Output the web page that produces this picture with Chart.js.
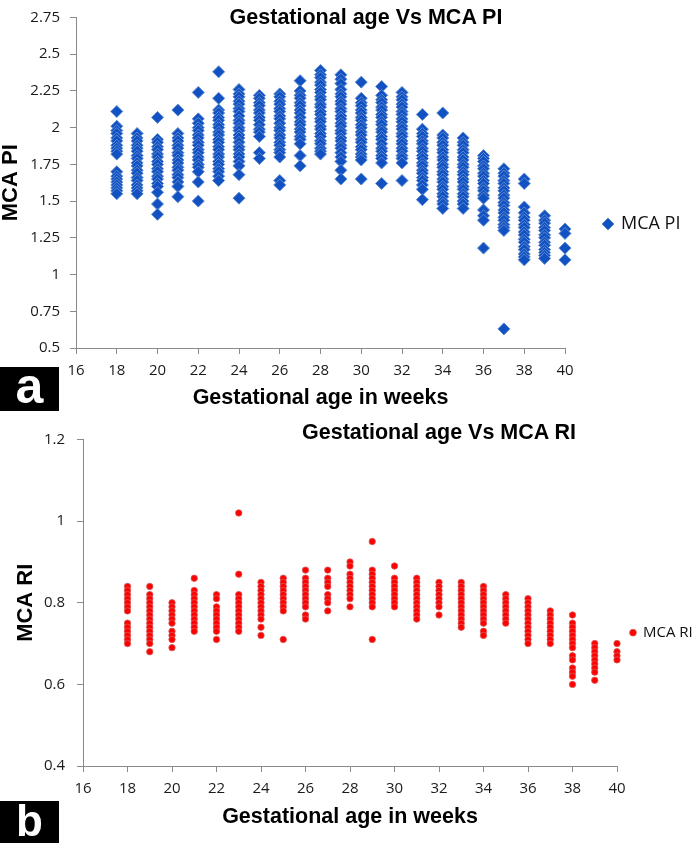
<!DOCTYPE html>
<html>
<head>
<meta charset="utf-8">
<script src="https://cdn.jsdelivr.net/npm/chart.js@4"></script>
<style>
  html, body { margin: 0; padding: 0; background: #fff; }
  body { width: 696px; height: 849px; position: relative; overflow: hidden; }
  canvas { position: absolute; left: 0; }
  #c1 { top: 0; }
  #c2 { top: 420px; }
  .ttl { position: absolute; font-family: 'Liberation Sans', Arial, sans-serif; font-weight: bold; font-size: 21.5px; line-height: 24px; color: #000; white-space: nowrap; transform: translateX(-50%); }
  .tag { position: absolute; left: 0; width: 59px; background: #000; color: #fff; font-family: 'Liberation Sans', Arial, sans-serif; font-weight: bold; display: flex; align-items: center; justify-content: center; line-height: 1; }
</style>
</head>
<body>
<canvas id="c1" width="696" height="420"></canvas>
<canvas id="c2" width="696" height="429"></canvas>
<div class="ttl" style="left:366px; top:5px;">Gestational age Vs MCA PI</div>
<div class="ttl" style="left:439px; top:420px;">Gestational age Vs MCA RI</div>
<div class="tag" style="top:367px; height:44px; font-size:50px;"><span style="margin-top:-6px">a</span></div>
<div class="tag" style="top:801px; height:42px; font-size:44px;"><span style="margin-top:-2px">b</span></div>
<script>
// ---------- DATA ----------
const piWeeks = [18,19,20,21,22,23,24,25,26,27,28,29,30,31,32,33,34,35,36,37,38,39,40];
const piValues = [
  [2.11,2.01,1.98,1.96,1.93,1.91,1.88,1.86,1.84,1.82,1.70,1.67,1.65,1.63,1.61,1.59,1.57,1.55],
  [1.96,1.93,1.91,1.88,1.86,1.84,1.81,1.79,1.76,1.74,1.71,1.69,1.66,1.64,1.61,1.59,1.57,1.55],
  [2.07,1.92,1.90,1.87,1.85,1.82,1.80,1.77,1.75,1.72,1.70,1.67,1.65,1.62,1.60,1.56,1.48,1.41],
  [2.12,1.96,1.93,1.91,1.88,1.86,1.83,1.81,1.78,1.76,1.73,1.71,1.68,1.66,1.63,1.60,1.53],
  [2.24,2.06,2.03,2.00,1.98,1.95,1.93,1.90,1.88,1.85,1.83,1.80,1.78,1.75,1.73,1.70,1.63,1.50],
  [2.38,2.20,2.12,2.10,2.07,2.05,2.02,2.00,1.97,1.95,1.92,1.90,1.87,1.85,1.82,1.80,1.77,1.75,1.72,1.70,1.67,1.64],
  [2.26,2.23,2.21,2.18,2.16,2.13,2.11,2.08,2.05,2.03,2.00,1.98,1.95,1.93,1.90,1.87,1.85,1.82,1.80,1.77,1.74,1.68,1.52],
  [2.22,2.20,2.17,2.15,2.12,2.10,2.07,2.05,2.02,1.99,1.97,1.94,1.83,1.79],
  [2.23,2.21,2.18,2.16,2.13,2.11,2.08,2.06,2.03,2.00,1.98,1.95,1.93,1.90,1.88,1.85,1.83,1.80,1.64,1.61],
  [2.32,2.25,2.22,2.20,2.17,2.15,2.12,2.10,2.07,2.04,2.02,1.99,1.97,1.94,1.92,1.89,1.81,1.74],
  [2.39,2.36,2.34,2.31,2.29,2.26,2.24,2.21,2.19,2.16,2.14,2.11,2.09,2.06,2.04,2.01,1.99,1.96,1.94,1.91,1.89,1.86,1.84,1.82],
  [2.36,2.33,2.30,2.26,2.23,2.21,2.18,2.16,2.13,2.11,2.08,2.06,2.03,2.01,1.98,1.96,1.93,1.91,1.88,1.86,1.83,1.80,1.77,1.71,1.65],
  [2.31,2.20,2.17,2.15,2.12,2.10,2.07,2.05,2.02,2.00,1.97,1.95,1.92,1.90,1.87,1.85,1.82,1.80,1.78,1.65],
  [2.28,2.22,2.19,2.17,2.14,2.12,2.09,2.07,2.04,2.02,1.99,1.97,1.94,1.92,1.89,1.86,1.84,1.81,1.79,1.76,1.62],
  [2.24,2.21,2.19,2.16,2.14,2.11,2.09,2.06,2.04,2.01,1.99,1.96,1.94,1.91,1.89,1.86,1.84,1.81,1.79,1.76,1.64],
  [2.09,1.99,1.96,1.94,1.91,1.89,1.86,1.84,1.81,1.79,1.76,1.74,1.71,1.69,1.66,1.64,1.61,1.58,1.51],
  [2.10,1.95,1.93,1.90,1.88,1.85,1.83,1.80,1.78,1.75,1.73,1.70,1.68,1.65,1.63,1.60,1.58,1.55,1.53,1.50,1.48,1.45],
  [1.93,1.90,1.88,1.85,1.83,1.80,1.78,1.75,1.73,1.70,1.68,1.65,1.63,1.60,1.58,1.55,1.53,1.50,1.48,1.45],
  [1.81,1.79,1.77,1.74,1.72,1.69,1.67,1.64,1.62,1.59,1.57,1.54,1.52,1.44,1.40,1.37,1.18],
  [1.72,1.69,1.67,1.64,1.62,1.59,1.57,1.54,1.52,1.49,1.47,1.44,1.42,1.39,1.37,1.34,1.32,1.30,0.63],
  [1.65,1.62,1.46,1.42,1.39,1.37,1.34,1.32,1.29,1.27,1.24,1.22,1.19,1.17,1.14,1.12,1.10],
  [1.40,1.37,1.35,1.32,1.30,1.27,1.25,1.22,1.20,1.17,1.15,1.13,1.11],
  [1.31,1.28,1.18,1.10]
];

const riWeeks = [18,19,20,21,22,23,24,25,26,27,28,29,30,31,32,33,34,35,36,37,38,39,40];
const riValues = [
  [0.84,0.83,0.82,0.81,0.80,0.79,0.78,0.75,0.74,0.73,0.72,0.71,0.70],
  [0.84,0.82,0.81,0.80,0.79,0.78,0.77,0.76,0.75,0.74,0.73,0.72,0.71,0.70,0.68],
  [0.80,0.79,0.78,0.77,0.76,0.75,0.73,0.72,0.71,0.69],
  [0.86,0.83,0.82,0.81,0.80,0.79,0.78,0.77,0.76,0.75,0.74,0.73],
  [0.82,0.81,0.79,0.78,0.77,0.76,0.75,0.74,0.73,0.71],
  [1.02,0.87,0.82,0.81,0.80,0.79,0.78,0.77,0.76,0.75,0.74,0.73],
  [0.85,0.84,0.83,0.82,0.81,0.80,0.79,0.78,0.77,0.76,0.74,0.72],
  [0.86,0.85,0.84,0.83,0.82,0.81,0.80,0.79,0.78,0.71],
  [0.88,0.86,0.85,0.84,0.83,0.82,0.81,0.80,0.79,0.77,0.76],
  [0.88,0.86,0.85,0.84,0.82,0.81,0.80,0.78],
  [0.90,0.89,0.87,0.86,0.85,0.84,0.83,0.82,0.81,0.79],
  [0.95,0.88,0.87,0.86,0.85,0.84,0.83,0.82,0.81,0.80,0.79,0.71],
  [0.89,0.86,0.85,0.84,0.83,0.82,0.81,0.80,0.79],
  [0.86,0.85,0.84,0.83,0.82,0.81,0.80,0.79,0.78,0.77,0.76],
  [0.85,0.84,0.83,0.82,0.81,0.80,0.79,0.77],
  [0.85,0.84,0.83,0.82,0.81,0.80,0.79,0.78,0.77,0.76,0.75,0.74],
  [0.84,0.83,0.82,0.81,0.80,0.79,0.78,0.77,0.76,0.75,0.73,0.72],
  [0.82,0.81,0.80,0.79,0.78,0.77,0.76,0.75],
  [0.81,0.80,0.79,0.78,0.77,0.76,0.75,0.74,0.73,0.72,0.71,0.70],
  [0.78,0.77,0.76,0.75,0.74,0.73,0.72,0.71,0.70],
  [0.77,0.75,0.74,0.73,0.72,0.71,0.70,0.69,0.67,0.66,0.64,0.63,0.62,0.60],
  [0.70,0.69,0.68,0.67,0.66,0.65,0.64,0.63,0.61],
  [0.70,0.68,0.67,0.66]
];

const xTickValues = [16,18,20,22,24,26,28,30,32,34,36,38,40];
const xTickLabels = ['16','18','20','22','24','26','28','30','32','34','36','38','40'];
const piTickValues = [0.5,0.75,1,1.25,1.5,1.75,2,2.25,2.5,2.75];
const piTickLabels = ['0.5','0.75','1','1.25','1.5','1.75','2','2.25','2.5','2.75'];
const riTickValues = [0.4,0.6,0.8,1,1.2];
const riTickLabels = ['0.4','0.6','0.8','1','1.2'];

const piSeriesName = 'MCA PI';
const riSeriesName = 'MCA RI';
const xAxisTitle = 'Gestational age in weeks';

// ---------- BUILD ----------
function toPoints(weeks, values) {
  const pts = [];
  weeks.forEach((w, i) => values[i].forEach(v => pts.push({x: w, y: v})));
  return pts;
}
function labelFor(vals, labs) {
  return function (v) {
    for (let i = 0; i < vals.length; i++) if (Math.abs(vals[i] - v) < 1e-6) return labs[i];
    return '';
  };
}

Chart.defaults.font.family = "'Open Sans', sans-serif";
Chart.defaults.color = '#1a1a1a';

const AXIS_GREY = '#8a8a8a';

function sideLegend(opts) {
  return {
    id: 'sideLegend',
    afterDraw(chart) {
      const ctx = chart.ctx;
      const ds = chart.data.datasets[0];
      ctx.save();
      ctx.fillStyle = ds.backgroundColor;
      ctx.strokeStyle = ds.borderColor;
      ctx.lineWidth = ds.borderWidth;
      ctx.beginPath();
      const r = opts.r;
      if (opts.shape === 'diamond') {
        ctx.moveTo(opts.mx - r, opts.my);
        ctx.lineTo(opts.mx, opts.my - r);
        ctx.lineTo(opts.mx + r, opts.my);
        ctx.lineTo(opts.mx, opts.my + r);
        ctx.closePath();
      } else {
        ctx.arc(opts.mx, opts.my, r, 0, Math.PI * 2);
      }
      ctx.fill();
      ctx.stroke();
      ctx.fillStyle = '#111';
      ctx.font = opts.font;
      ctx.textAlign = 'left';
      ctx.textBaseline = 'middle';
      ctx.fillText(ds.label, opts.tx, opts.my);
      ctx.restore();
    }
  };
}

function makeChart(id, cfg) {
  return new Chart(document.getElementById(id), {
    type: 'scatter',
    data: {
      datasets: [{
        label: cfg.label,
        data: toPoints(cfg.weeks, cfg.values),
        pointStyle: cfg.pointStyle,
        pointRadius: cfg.radius,
        pointHoverRadius: cfg.radius,
        backgroundColor: cfg.fill,
        borderColor: cfg.border,
        borderWidth: cfg.borderWidth,
        clip: false
      }]
    },
    options: {
      responsive: false,
      animation: false,
      devicePixelRatio: 1,
      layout: { padding: { top: cfg.padTop, right: cfg.padRight, left: 0, bottom: 0 } },
      plugins: { legend: { display: false }, tooltip: { enabled: false }, title: { display: false } },
      scales: {
        x: {
          type: 'linear', min: 16, max: 40,
          afterFit: s => { s.height = cfg.xHeight; },
          afterBuildTicks: s => { s.ticks = xTickValues.map(v => ({value: v})); },
          ticks: { stepSize: 2, padding: 9, font: { size: 15, lineHeight: 1 }, color: '#1a1a1a', maxRotation: 0, callback: labelFor(xTickValues, xTickLabels) },
          grid: { display: true, drawOnChartArea: false, drawTicks: true, tickLength: 6, color: AXIS_GREY, lineWidth: 1 },
          border: { display: true, color: AXIS_GREY, width: 1 },
          title: { display: true, text: xAxisTitle, color: '#000', font: { size: 21.5, weight: 'bold', family: "'Liberation Sans', Arial, sans-serif", lineHeight: 1 }, padding: { top: 0, bottom: cfg.xTitlePad } }
        },
        y: {
          type: 'linear', min: cfg.yMin, max: cfg.yMax,
          afterFit: s => { s.width = cfg.yWidth; },
          afterBuildTicks: s => { s.ticks = cfg.yTicks.map(v => ({value: v})); },
          ticks: { padding: cfg.yTickPad, font: { size: 15, lineHeight: 1 }, color: '#1a1a1a', callback: labelFor(cfg.yTicks, cfg.yLabels) },
          grid: { display: true, drawOnChartArea: false, drawTicks: true, tickLength: 6, color: AXIS_GREY, lineWidth: 1 },
          border: { display: true, color: AXIS_GREY, width: 1 },
          title: { display: true, text: cfg.yTitle, color: '#000', font: { size: 22, weight: 'bold', family: "'Liberation Sans', Arial, sans-serif", lineHeight: 1 }, padding: { top: cfg.yTitlePad, bottom: 0 } }
        }
      }
    },
    plugins: [sideLegend(cfg.legend)]
  });
}

makeChart('c1', {
  label: piSeriesName, weeks: piWeeks, values: piValues,
  pointStyle: 'rectRot', radius: 6, fill: '#1151c2', border: '#5d8ad0', borderWidth: 1,
  padTop: 7, padRight: 131, xHeight: 72, yWidth: 76, yTickPad: 10, xTitlePad: 11, yTitlePad: 0,
  yMin: 0.5, yMax: 2.75, yTicks: piTickValues, yLabels: piTickLabels, yTitle: 'MCA PI',
  legend: { shape: 'diamond', mx: 608, my: 224, r: 6, tx: 621, font: "18px 'Open Sans', sans-serif" }
});

makeChart('c2', {
  label: riSeriesName, weeks: riWeeks, values: riValues,
  pointStyle: 'circle', radius: 3.2, fill: '#ff0000', border: '#d85a5a', borderWidth: 0.8,
  padTop: 15, padRight: 79, xHeight: 83, yWidth: 83, yTickPad: 12, xTitlePad: 21, yTitlePad: 15,
  yMin: 0.4, yMax: 1.2, yTicks: riTickValues, yLabels: riTickLabels, yTitle: 'MCA RI',
  legend: { shape: 'circle', mx: 633, my: 212.7, r: 3.4, tx: 643, font: "15px 'Open Sans', sans-serif" }
});
</script>
</body>
</html>
